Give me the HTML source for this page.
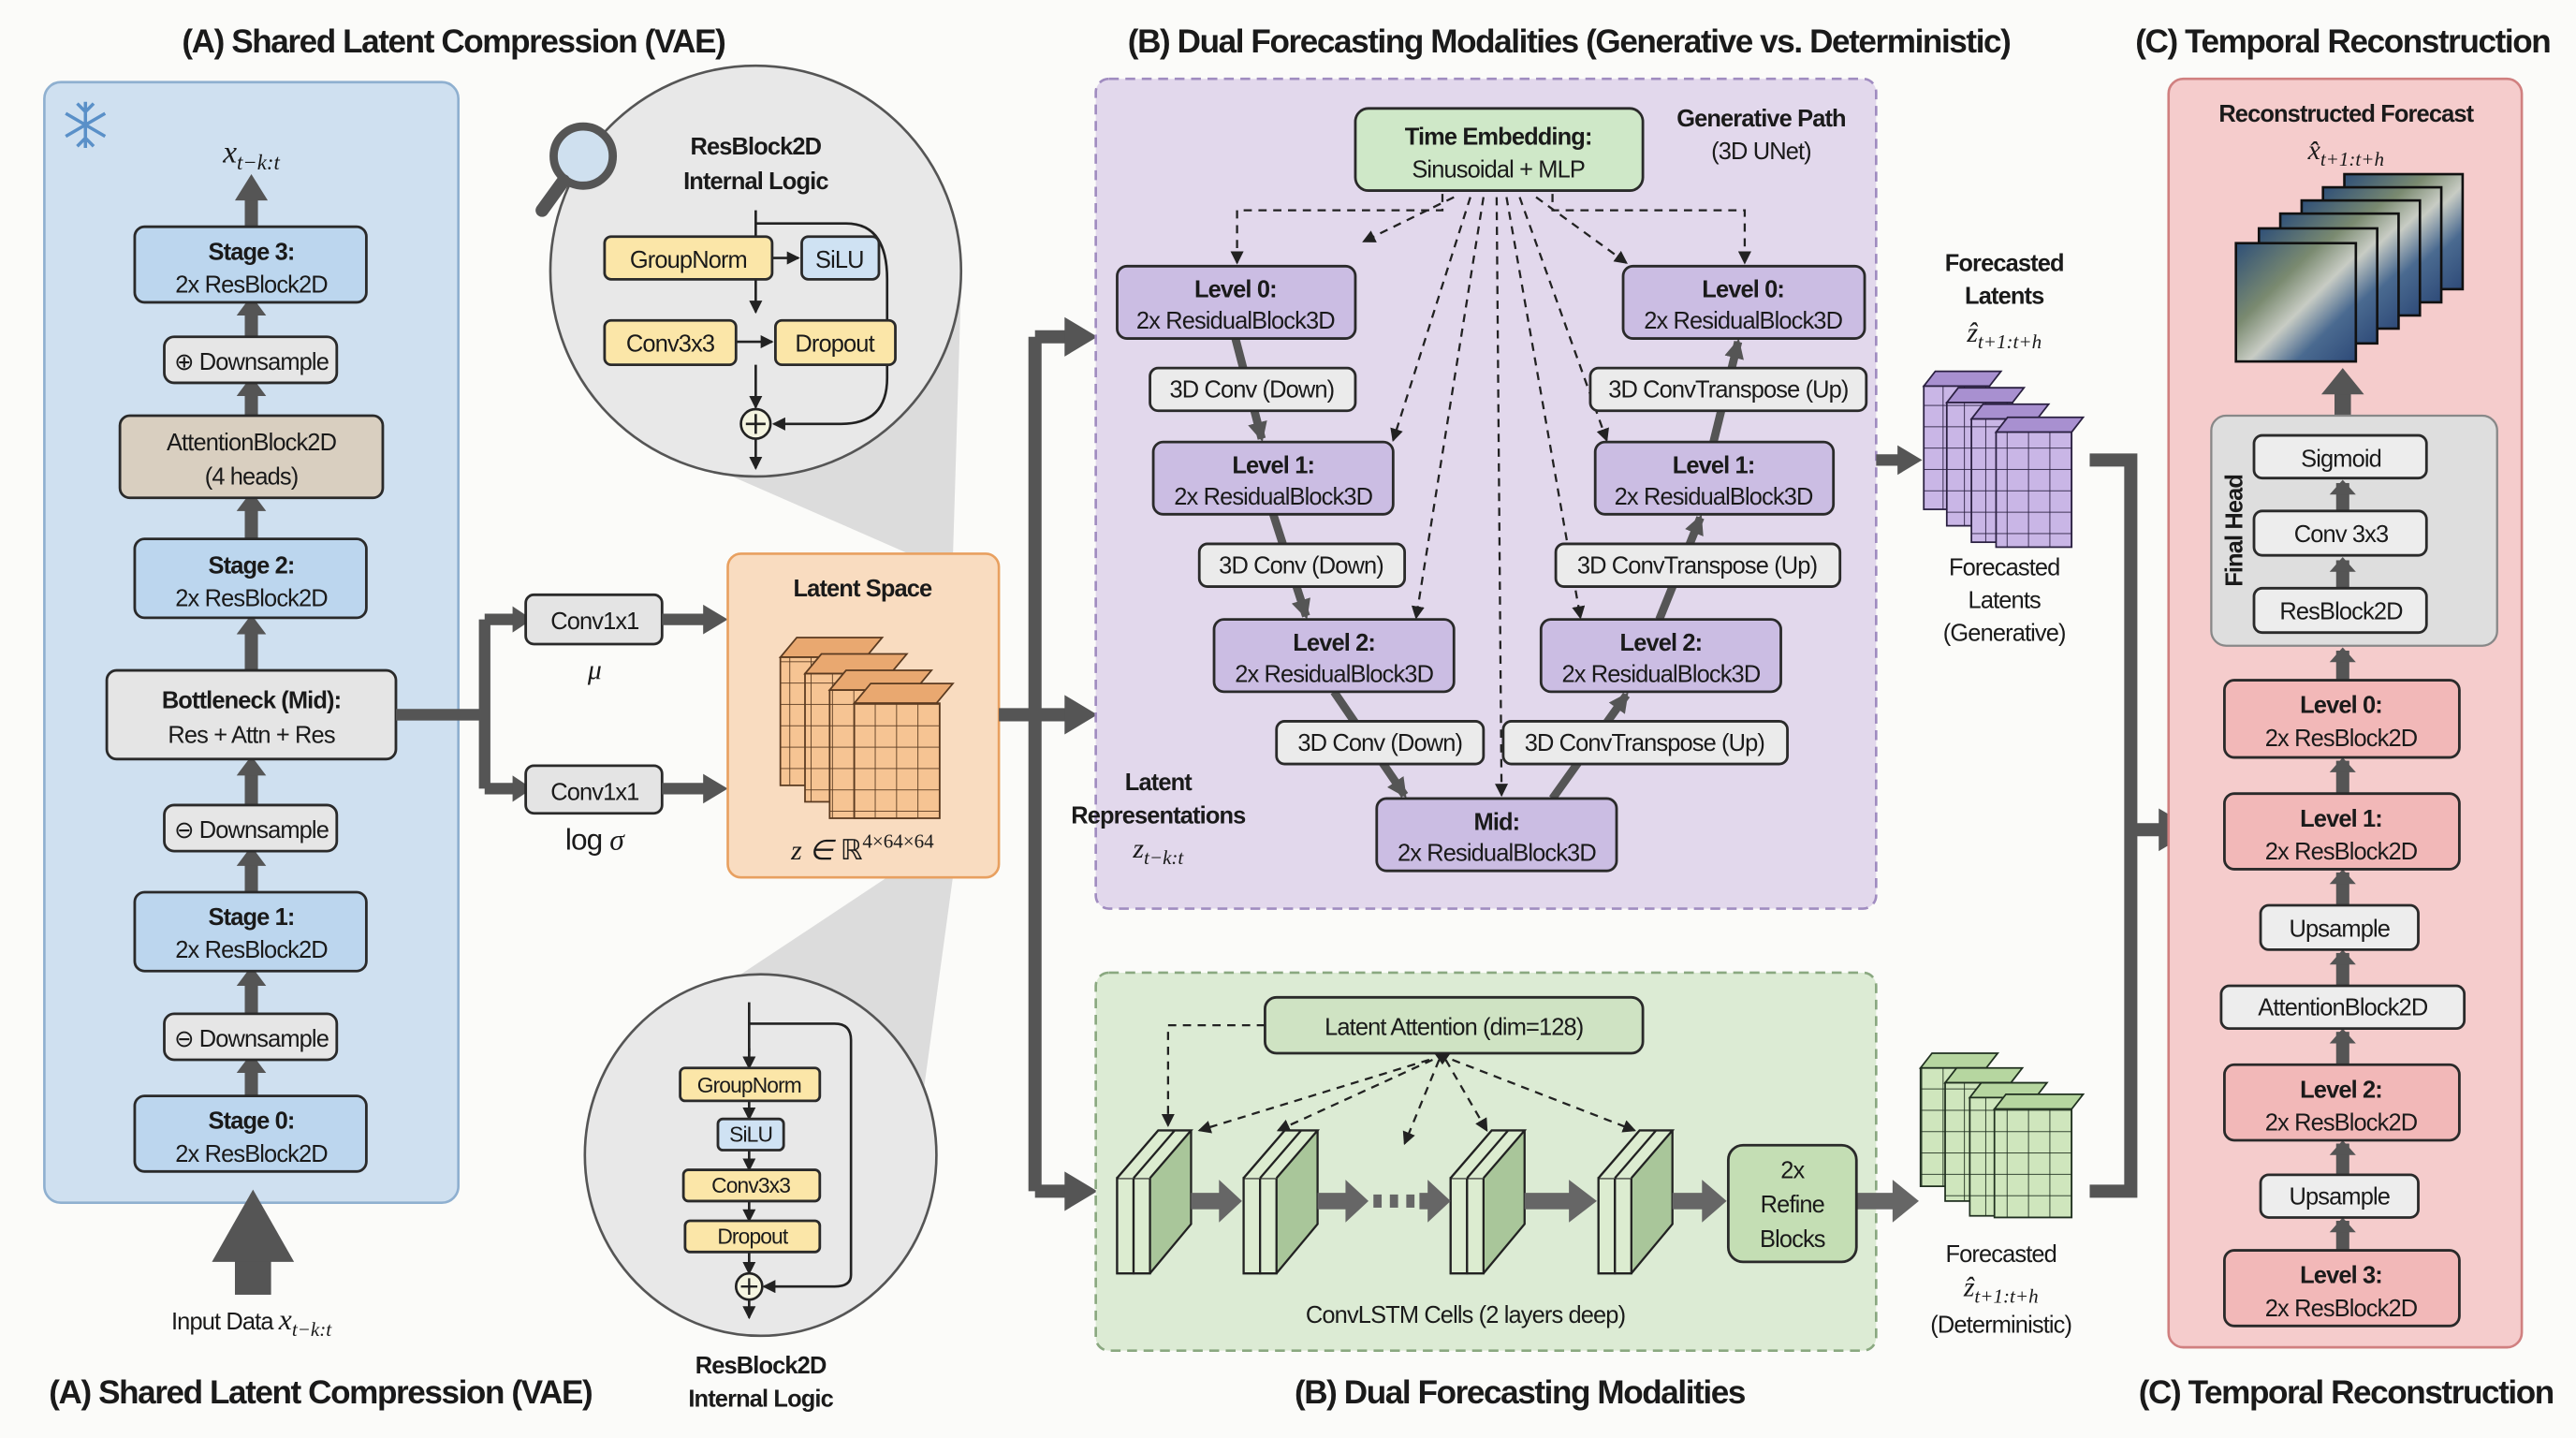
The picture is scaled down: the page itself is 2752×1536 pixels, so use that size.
<!DOCTYPE html>
<html><head><meta charset="utf-8"><style>
html,body{margin:0;padding:0;background:#fbfbf9;}
svg{display:block;}
text{font-family:"Liberation Sans",sans-serif;fill:#1a1a1a;letter-spacing:-0.5px;}
.t{font-weight:bold;font-size:20px;letter-spacing:-0.8px;}
.b{font-size:14.5px;}
.bb{font-size:14.5px;font-weight:bold;}
.m{font-family:"Liberation Serif",serif;font-style:italic;letter-spacing:0;}
.box{stroke:#2a2a2a;stroke-width:1.6;}
</style></head><body>
<svg width="2752" height="1536" viewBox="0 0 1568 875.2" preserveAspectRatio="none" xmlns="http://www.w3.org/2000/svg">
<defs>
<marker id="ah" markerWidth="8" markerHeight="8" refX="7" refY="4" orient="auto" markerUnits="userSpaceOnUse"><path d="M0,0 L8,4 L0,8 Z" fill="#222"/></marker>
<marker id="as" markerWidth="14" markerHeight="14" refX="10" refY="7" orient="auto" markerUnits="userSpaceOnUse"><path d="M0,1 L12,7 L0,13 Z" fill="#555"/></marker>
<pattern id="go" width="13" height="13" patternUnits="userSpaceOnUse"><rect width="13" height="13" fill="#f6c493"/><path d="M13,0V13H0" fill="none" stroke="#5a3a20" stroke-width="1"/></pattern>
<pattern id="gp" width="13" height="13" patternUnits="userSpaceOnUse"><rect width="13" height="13" fill="#c9b6e6"/><path d="M13,0V13H0" fill="none" stroke="#2a2040" stroke-width="1"/></pattern>
<pattern id="gg" width="13" height="13" patternUnits="userSpaceOnUse"><rect width="13" height="13" fill="#cfe6bd"/><path d="M13,0V13H0" fill="none" stroke="#203020" stroke-width="1"/></pattern>
<linearGradient id="sat" x1="0" y1="0" x2="1" y2="1"><stop offset="0" stop-color="#2e4f78"/><stop offset="0.35" stop-color="#7a8a70"/><stop offset="0.55" stop-color="#c8ccc4"/><stop offset="0.75" stop-color="#4a6a90"/><stop offset="1" stop-color="#2e4a78"/></linearGradient>
</defs>

<!-- titles -->
<text class="t" x="276" y="32" text-anchor="middle">(A) Shared Latent Compression (VAE)</text>
<text class="t" x="955" y="32" text-anchor="middle">(B) Dual Forecasting Modalities (Generative vs. Deterministic)</text>
<text class="t" x="1426" y="32" text-anchor="middle">(C) Temporal Reconstruction</text>
<text class="t" x="195" y="854" text-anchor="middle">(A) Shared Latent Compression (VAE)</text>
<text class="t" x="925" y="854" text-anchor="middle">(B) Dual Forecasting Modalities</text>
<text class="t" x="1428" y="854" text-anchor="middle">(C) Temporal Reconstruction</text>

<!-- Panel A -->
<rect x="27" y="50" width="252" height="682" rx="10" fill="#cfe0f0" stroke="#8fb0d0" stroke-width="1.5"/>
<g stroke="#5a90c8" stroke-width="2" fill="none">
<path d="M52,62V90M40,69L64,83M40,83L64,69M47,63L52,68L57,63M47,89L52,84L57,89"/>
</g>
<text class="m" x="153" y="99" text-anchor="middle" font-size="19">x<tspan font-size="13" dy="4">t−k:t</tspan></text>
<g fill="#555">
<rect x="149" y="120" width="8" height="20"/><path d="M143,122L153,106L163,122Z"/>
<rect x="149" y="187" width="8" height="18"/><path d="M144,192L153,180L162,192Z"/>
<rect x="149" y="236" width="8" height="17"/><path d="M144,241L153,229L162,241Z"/>
<rect x="149" y="306" width="8" height="22"/><path d="M144,311L153,299L162,311Z"/>
<rect x="149" y="380" width="8" height="28"/><path d="M144,386L153,374L162,386Z"/>
<rect x="149" y="466" width="8" height="24"/><path d="M144,472L153,460L162,472Z"/>
<rect x="149" y="522" width="8" height="21"/><path d="M144,527L153,515L162,527Z"/>
<rect x="149" y="595" width="8" height="22"/><path d="M144,600L153,588L162,600Z"/>
<rect x="149" y="648" width="8" height="19"/><path d="M144,653L153,641L162,653Z"/>
<rect x="143" y="766" width="22" height="22"/><path d="M129,768L154,724L179,768Z"/>
</g>
<rect class="box" x="82" y="138" width="141" height="46" rx="6" fill="#bcd6ee"/>
<text class="bb" x="153" y="158" text-anchor="middle">Stage 3:</text><text class="b" x="153" y="178" text-anchor="middle">2x ResBlock2D</text>
<rect class="box" x="100" y="205" width="105" height="28" rx="6" fill="#e6e6e6"/>
<text class="b" x="153" y="225" text-anchor="middle">⊕ Downsample</text>
<rect class="box" x="73" y="253" width="160" height="50" rx="6" fill="#d9cfc0"/>
<text class="b" x="153" y="274" text-anchor="middle">AttentionBlock2D</text><text class="b" x="153" y="295" text-anchor="middle">(4 heads)</text>
<rect class="box" x="82" y="328" width="141" height="48" rx="6" fill="#bcd6ee"/>
<text class="bb" x="153" y="349" text-anchor="middle">Stage 2:</text><text class="b" x="153" y="369" text-anchor="middle">2x ResBlock2D</text>
<rect class="box" x="65" y="408" width="176" height="54" rx="6" fill="#e5e5e5"/>
<text class="bb" x="153" y="431" text-anchor="middle">Bottleneck (Mid):</text><text class="b" x="153" y="452" text-anchor="middle">Res + Attn + Res</text>
<rect class="box" x="100" y="490" width="105" height="28" rx="6" fill="#e6e6e6"/>
<text class="b" x="153" y="510" text-anchor="middle">⊖ Downsample</text>
<rect class="box" x="82" y="543" width="141" height="48" rx="6" fill="#bcd6ee"/>
<text class="bb" x="153" y="563" text-anchor="middle">Stage 1:</text><text class="b" x="153" y="583" text-anchor="middle">2x ResBlock2D</text>
<rect class="box" x="100" y="617" width="105" height="28" rx="6" fill="#e6e6e6"/>
<text class="b" x="153" y="637" text-anchor="middle">⊖ Downsample</text>
<rect class="box" x="82" y="667" width="141" height="46" rx="6" fill="#bcd6ee"/>
<text class="bb" x="153" y="687" text-anchor="middle">Stage 0:</text><text class="b" x="153" y="707" text-anchor="middle">2x ResBlock2D</text>
<text class="b" x="153" y="809" text-anchor="middle">Input Data <tspan class="m" font-size="18">x</tspan><tspan class="m" font-size="12" dy="4">t−k:t</tspan></text>

<!-- bottleneck branch -->
<path d="M241,435H295M295,377V480M295,377H318M295,480H318" stroke="#555" stroke-width="7" fill="none"/>
<path d="M312,369L324,377L312,385Z M312,472L324,480L312,488Z" fill="#555"/>
<rect class="box" x="320" y="362" width="83" height="30" rx="5" fill="#e4e4e4"/>
<text class="b" x="362" y="383" text-anchor="middle">Conv1x1</text>
<rect class="box" x="320" y="466" width="83" height="29" rx="5" fill="#e4e4e4"/>
<text class="b" x="362" y="487" text-anchor="middle">Conv1x1</text>
<text class="m" x="362" y="413" text-anchor="middle" font-size="17">μ</text>
<text x="362" y="517" text-anchor="middle" font-size="18" font-family="Liberation Serif">log <tspan class="m">σ</tspan></text>
<path d="M403,377H430M403,480H430" stroke="#555" stroke-width="7"/>
<path d="M428,368L443,377L428,386Z M428,471L443,480L428,489Z" fill="#555"/>

<!-- cones -->
<path d="M400,270 L585,175 L580,340 L560,340Z" fill="#d4d4d4" opacity="0.8"/>
<path d="M540,534 L580,534 L560,680 L380,640Z" fill="#d4d4d4" opacity="0.8"/>

<!-- latent space -->
<rect x="443" y="337" width="165" height="197" rx="8" fill="#f9dcc0" stroke="#e8a060" stroke-width="1.5"/>
<text class="bb" x="525" y="363" text-anchor="middle" font-size="16">Latent Space</text>
<g stroke="#5a3a20" stroke-width="1">
<path d="M475,400 L485,388 L537,388 L527,400Z" fill="#e9a870"/><rect x="475" y="400" width="52" height="78" fill="url(#go)"/>
<path d="M490,410 L500,398 L552,398 L542,410Z" fill="#e9a870"/><rect x="490" y="410" width="52" height="78" fill="url(#go)"/>
<path d="M505,420 L515,408 L567,408 L557,420Z" fill="#e9a870"/><rect x="505" y="420" width="52" height="78" fill="url(#go)"/>
<path d="M520,428 L530,416 L580,416 L570,428Z" fill="#e9a870"/><rect x="520" y="428" width="52" height="70" fill="url(#go)"/>
</g>
<text class="m" x="525" y="523" text-anchor="middle" font-size="17">z ∈ <tspan font-style="normal">ℝ</tspan><tspan font-size="12" dy="-7" font-style="normal">4×64×64</tspan></text>

<!-- top magnifier circle -->
<circle cx="460" cy="165" r="125" fill="#e8e8e8" stroke="#555" stroke-width="1.5"/>
<circle cx="355" cy="95" r="18" fill="#cfe0ef" stroke="#555" stroke-width="5"/>
<path d="M343,110L330,128" stroke="#555" stroke-width="8" stroke-linecap="round"/>
<text class="bb" x="460" y="94" text-anchor="middle" font-size="16">ResBlock2D</text>
<text class="bb" x="460" y="115" text-anchor="middle" font-size="16">Internal Logic</text>
<g stroke="#222" stroke-width="1.5" fill="none">
<path d="M460,128V144M460,170V190" marker-end="url(#ah)"/>
<path d="M470,157H486" marker-end="url(#ah)"/>
<path d="M448,208H470" marker-end="url(#ah)"/>
<path d="M460,222V248" marker-end="url(#ah)"/>
<path d="M460,267V285" marker-end="url(#ah)"/>
<path d="M460,136H515Q540,136 540,170V230Q540,258 512,258H471" marker-end="url(#ah)"/>
</g>
<rect class="box" x="368" y="144" width="102" height="26" rx="4" fill="#fbe6a8"/><text class="b" x="419" y="163" text-anchor="middle" font-size="16">GroupNorm</text>
<rect class="box" x="488" y="144" width="47" height="26" rx="4" fill="#cfe2f3"/><text class="b" x="511" y="163" text-anchor="middle" font-size="16">SiLU</text>
<rect class="box" x="368" y="195" width="80" height="27" rx="4" fill="#fbe6a8"/><text class="b" x="408" y="214" text-anchor="middle" font-size="16">Conv3x3</text>
<rect class="box" x="472" y="195" width="73" height="27" rx="4" fill="#fbe6a8"/><text class="b" x="508" y="214" text-anchor="middle" font-size="16">Dropout</text>
<circle cx="460" cy="258" r="9" fill="#f4f4e0" stroke="#222" stroke-width="1.5"/><path d="M454,258H466M460,252V264" stroke="#222" stroke-width="1.5"/>

<!-- bottom ellipse -->
<ellipse cx="463" cy="703" rx="107" ry="110" fill="#e8e8e8" stroke="#555" stroke-width="1.5"/>
<g stroke="#222" stroke-width="1.5" fill="none">
<path d="M456,638V650" marker-end="url(#ah)"/>
<path d="M456,670V681" marker-end="url(#ah)"/>
<path d="M456,700V712" marker-end="url(#ah)"/>
<path d="M456,731V743" marker-end="url(#ah)"/>
<path d="M456,762V775" marker-end="url(#ah)"/>
<path d="M456,791V802" marker-end="url(#ah)"/>
<path d="M456,610V640"/>
<path d="M456,623H508Q518,623 518,633V776Q518,783 508,783H465" marker-end="url(#ah)"/>
</g>
<rect class="box" x="414" y="650" width="85" height="20" rx="3" fill="#fbe6a8"/><text x="456" y="665" text-anchor="middle" font-size="13">GroupNorm</text>
<rect class="box" x="437" y="681" width="40" height="19" rx="3" fill="#cfe2f3"/><text x="457" y="695" text-anchor="middle" font-size="13">SiLU</text>
<rect class="box" x="416" y="712" width="83" height="19" rx="3" fill="#fbe6a8"/><text x="457" y="726" text-anchor="middle" font-size="13">Conv3x3</text>
<rect class="box" x="417" y="743" width="82" height="19" rx="3" fill="#fbe6a8"/><text x="458" y="757" text-anchor="middle" font-size="13">Dropout</text>
<circle cx="456" cy="783" r="8" fill="#f4f4e0" stroke="#222" stroke-width="1.5"/><path d="M451,783H461M456,778V788" stroke="#222" stroke-width="1.3"/>
<text class="bb" x="463" y="836" text-anchor="middle" font-size="16">ResBlock2D</text>
<text class="bb" x="463" y="856" text-anchor="middle" font-size="16">Internal Logic</text>

<!-- distributor -->
<path d="M608,435H630M630,205V725M630,205H652M630,435H652M630,725H652" stroke="#555" stroke-width="8" fill="none"/>
<path d="M648,193L668,205L648,217Z M648,423L668,435L648,447Z M648,713L668,725L648,737Z" fill="#555"/>

<!-- Purple panel -->
<rect x="667" y="48" width="475" height="505" rx="8" fill="#e2d8ec" stroke="#a08cc0" stroke-width="1.5" stroke-dasharray="6,4"/>
<rect class="box" x="825" y="66" width="175" height="50" rx="8" fill="#cfe8c8" stroke="#6a9a6a"/>
<text class="bb" x="912" y="88" text-anchor="middle" font-size="16">Time Embedding:</text>
<text class="b" x="912" y="108" text-anchor="middle" font-size="16">Sinusoidal + MLP</text>
<text class="bb" x="1072" y="77" text-anchor="middle">Generative Path</text>
<text class="b" x="1072" y="97" text-anchor="middle">(3D UNet)</text>
<g stroke="#222" stroke-width="1.3" fill="none" stroke-dasharray="5,4" marker-end="url(#ah)">
<path d="M878,118V128H753V160"/>
<path d="M885,120L830,147"/>
<path d="M895,120L848,268"/>
<path d="M903,120L862,376"/>
<path d="M911,120L914,484"/>
<path d="M917,120L962,376"/>
<path d="M925,120L978,268"/>
<path d="M935,120L990,160"/>
<path d="M945,118V128H1062V160"/>
</g>
<g stroke="#555" stroke-width="5" fill="none" marker-end="url(#as)">
<path d="M752,206L768,267"/><path d="M775,313L795,375"/><path d="M812,421L855,484"/>
<path d="M945,486L990,423"/><path d="M1010,377L1035,315"/><path d="M1043,269L1058,208"/>
</g>
<g class="box">
<rect x="680" y="162" width="145" height="44" rx="6" fill="#cbbde3"/>
<rect x="702" y="269" width="146" height="44" rx="6" fill="#cbbde3"/>
<rect x="739" y="377" width="146" height="44" rx="6" fill="#cbbde3"/>
<rect x="838" y="486" width="146" height="44" rx="6" fill="#cbbde3"/>
<rect x="988" y="162" width="147" height="44" rx="6" fill="#cbbde3"/>
<rect x="971" y="269" width="145" height="44" rx="6" fill="#cbbde3"/>
<rect x="938" y="377" width="146" height="44" rx="6" fill="#cbbde3"/>
<rect x="700" y="224" width="125" height="26" rx="5" fill="#ebebeb"/>
<rect x="730" y="331" width="125" height="26" rx="5" fill="#ebebeb"/>
<rect x="777" y="439" width="126" height="26" rx="5" fill="#ebebeb"/>
<rect x="968" y="224" width="168" height="26" rx="5" fill="#ebebeb"/>
<rect x="947" y="331" width="173" height="26" rx="5" fill="#ebebeb"/>
<rect x="915" y="439" width="173" height="26" rx="5" fill="#ebebeb"/>
</g>
<text class="bb" x="752" y="181" text-anchor="middle" font-size="16">Level 0:</text><text class="b" x="752" y="200" text-anchor="middle">2x ResidualBlock3D</text>
<text class="bb" x="775" y="288" text-anchor="middle" font-size="16">Level 1:</text><text class="b" x="775" y="307" text-anchor="middle">2x ResidualBlock3D</text>
<text class="bb" x="812" y="396" text-anchor="middle" font-size="16">Level 2:</text><text class="b" x="812" y="415" text-anchor="middle">2x ResidualBlock3D</text>
<text class="bb" x="911" y="505" text-anchor="middle" font-size="16">Mid:</text><text class="b" x="911" y="524" text-anchor="middle">2x ResidualBlock3D</text>
<text class="bb" x="1061" y="181" text-anchor="middle" font-size="16">Level 0:</text><text class="b" x="1061" y="200" text-anchor="middle">2x ResidualBlock3D</text>
<text class="bb" x="1043" y="288" text-anchor="middle" font-size="16">Level 1:</text><text class="b" x="1043" y="307" text-anchor="middle">2x ResidualBlock3D</text>
<text class="bb" x="1011" y="396" text-anchor="middle" font-size="16">Level 2:</text><text class="b" x="1011" y="415" text-anchor="middle">2x ResidualBlock3D</text>
<text class="b" x="762" y="242" text-anchor="middle">3D Conv (Down)</text>
<text class="b" x="792" y="349" text-anchor="middle">3D Conv (Down)</text>
<text class="b" x="840" y="457" text-anchor="middle">3D Conv (Down)</text>
<text class="b" x="1052" y="242" text-anchor="middle">3D ConvTranspose (Up)</text>
<text class="b" x="1033" y="349" text-anchor="middle">3D ConvTranspose (Up)</text>
<text class="b" x="1001" y="457" text-anchor="middle">3D ConvTranspose (Up)</text>
<text class="bb" x="705" y="481" text-anchor="middle" font-size="16">Latent</text>
<text class="bb" x="705" y="501" text-anchor="middle" font-size="16">Representations</text>
<text class="m" x="705" y="522" text-anchor="middle" font-size="17">z<tspan font-size="12" dy="4">t−k:t</tspan></text>

<!-- forecasted latents generative -->
<text class="bb" x="1220" y="165" text-anchor="middle" font-size="16">Forecasted</text>
<text class="bb" x="1220" y="185" text-anchor="middle" font-size="16">Latents</text>
<text class="m" x="1220" y="208" text-anchor="middle" font-size="17">ẑ<tspan font-size="12" dy="4">t+1:t+h</tspan></text>
<g stroke="#2a2040" stroke-width="1">
<path d="M1171,235L1178,226L1218,226L1211,235Z" fill="#a890d0"/><rect x="1171" y="235" width="40" height="75" fill="url(#gp)"/>
<path d="M1185,245L1192,236L1232,236L1225,245Z" fill="#a890d0"/><rect x="1185" y="245" width="40" height="75" fill="url(#gp)"/>
<path d="M1200,255L1207,246L1247,246L1240,255Z" fill="#a890d0"/><rect x="1200" y="255" width="40" height="75" fill="url(#gp)"/>
<path d="M1215,263L1222,254L1268,254L1261,263Z" fill="#a890d0"/><rect x="1215" y="263" width="46" height="70" fill="url(#gp)"/>
</g>
<text class="b" x="1220" y="350" text-anchor="middle" font-size="16">Forecasted</text>
<text class="b" x="1220" y="370" text-anchor="middle" font-size="16">Latents</text>
<text class="b" x="1220" y="390" text-anchor="middle" font-size="16">(Generative)</text>
<path d="M1142,280H1158" stroke="#555" stroke-width="7"/><path d="M1155,271L1170,280L1155,289Z" fill="#555"/>

<!-- Green panel -->
<rect x="667" y="592" width="475" height="230" rx="8" fill="#dcebd4" stroke="#8aa880" stroke-width="1.5" stroke-dasharray="6,4"/>
<rect class="box" x="770" y="607" width="230" height="34" rx="7" fill="#cfe3c3"/>
<text class="b" x="885" y="630" text-anchor="middle" font-size="16">Latent Attention (dim=128)</text>
<g stroke="#222" stroke-width="1.3" fill="none" stroke-dasharray="5,4" marker-end="url(#ah)">
<path d="M770,624H711V685"/>
<path d="M870,645L730,688"/>
<path d="M872,645L778,688"/>
<path d="M876,645L855,696"/>
<path d="M880,645L905,688"/>
<path d="M884,645L995,688"/>
</g>
<path d="M873,641L878,648L883,641" fill="#222"/>
<g stroke="#222" stroke-width="1.3">
<g><path d="M680,775V717L705,688H725V745L700,775Z" fill="#a9c69a"/><rect x="680" y="717" width="10" height="58" fill="#dcecd0"/><rect x="690" y="717" width="10" height="58" fill="#dcecd0"/><path d="M680,717L705,688H715L690,717M690,717L715,688H725L700,717" fill="#dcecd0"/></g>
<g transform="translate(77,0)"><path d="M680,775V717L705,688H725V745L700,775Z" fill="#a9c69a"/><rect x="680" y="717" width="10" height="58" fill="#dcecd0"/><rect x="690" y="717" width="10" height="58" fill="#dcecd0"/><path d="M680,717L705,688H715L690,717M690,717L715,688H725L700,717" fill="#dcecd0"/></g>
<g transform="translate(203,0)"><path d="M680,775V717L705,688H725V745L700,775Z" fill="#a9c69a"/><rect x="680" y="717" width="10" height="58" fill="#dcecd0"/><rect x="690" y="717" width="10" height="58" fill="#dcecd0"/><path d="M680,717L705,688H715L690,717M690,717L715,688H725L700,717" fill="#dcecd0"/></g>
<g transform="translate(293,0)"><path d="M680,775V717L705,688H725V745L700,775Z" fill="#a9c69a"/><rect x="680" y="717" width="10" height="58" fill="#dcecd0"/><rect x="690" y="717" width="10" height="58" fill="#dcecd0"/><path d="M680,717L705,688H715L690,717M690,717L715,688H725L700,717" fill="#dcecd0"/></g>
</g>
<g fill="#666">
<rect x="725" y="726" width="20" height="10"/><path d="M742,718L756,731L742,744Z"/>
<rect x="802" y="726" width="20" height="10"/><path d="M819,718L833,731L819,744Z"/>
<rect x="836" y="727" width="5" height="8"/><rect x="846" y="727" width="5" height="8"/><rect x="856" y="727" width="5" height="8"/>
<rect x="864" y="726" width="8" height="10"/><path d="M869,718L883,731L869,744Z"/>
<rect x="928" y="726" width="30" height="10"/><path d="M955,718L972,731L955,744Z"/>
<rect x="1018" y="726" width="20" height="10"/><path d="M1036,718L1051,731L1036,744Z"/>
<rect x="1130" y="726" width="26" height="10"/><path d="M1152,718L1168,731L1152,744Z"/>
</g>
<rect class="box" x="1052" y="697" width="78" height="71" rx="9" fill="#c4deb4"/>
<text class="b" x="1091" y="717" text-anchor="middle" font-size="17">2x</text>
<text class="b" x="1091" y="738" text-anchor="middle" font-size="17">Refine</text>
<text class="b" x="1091" y="759" text-anchor="middle" font-size="17">Blocks</text>
<text class="b" x="892" y="805" text-anchor="middle" font-size="16">ConvLSTM Cells (2 layers deep)</text>

<!-- green cube -->
<g stroke="#203020" stroke-width="1">
<path d="M1169,650L1176,641L1216,641L1209,650Z" fill="#b6d6a0"/><rect x="1169" y="650" width="40" height="72" fill="url(#gg)"/>
<path d="M1184,659L1191,650L1231,650L1224,659Z" fill="#b6d6a0"/><rect x="1184" y="659" width="40" height="72" fill="url(#gg)"/>
<path d="M1199,668L1206,659L1246,659L1239,668Z" fill="#b6d6a0"/><rect x="1199" y="668" width="40" height="72" fill="url(#gg)"/>
<path d="M1214,675L1221,666L1268,666L1261,675Z" fill="#b6d6a0"/><rect x="1214" y="675" width="47" height="66" fill="url(#gg)"/>
</g>
<text class="b" x="1218" y="768" text-anchor="middle" font-size="16">Forecasted</text>
<text class="m" x="1218" y="789" text-anchor="middle" font-size="17">ẑ<tspan font-size="12" dy="4">t+1:t+h</tspan></text>
<text class="b" x="1218" y="811" text-anchor="middle" font-size="16">(Deterministic)</text>

<!-- merge bracket -->
<path d="M1272,280H1297V725H1272M1297,505H1320" stroke="#555" stroke-width="8" fill="none"/>
<path d="M1314,492L1336,505L1314,518Z" fill="#555"/>

<!-- Red panel -->
<rect x="1320" y="48" width="215" height="772" rx="9" fill="#f5cccc" stroke="#d08080" stroke-width="1.5"/>
<text class="bb" x="1428" y="74" text-anchor="middle" font-size="16">Reconstructed Forecast</text>
<text class="m" x="1428" y="97" text-anchor="middle" font-size="17">x̂<tspan font-size="12" dy="4">t+1:t+h</tspan></text>
<g stroke="#111" stroke-width="1.5">
<rect x="1427" y="106" width="72" height="70" fill="url(#sat)"/>
<rect x="1414" y="114" width="72" height="70" fill="url(#sat)"/>
<rect x="1401" y="122" width="72" height="70" fill="url(#sat)"/>
<rect x="1388" y="130" width="72" height="70" fill="url(#sat)"/>
<rect x="1375" y="139" width="72" height="70" fill="url(#sat)"/>
<rect x="1361" y="148" width="73" height="72" fill="url(#sat)"/>
</g>
<rect x="1421" y="236" width="10" height="18" fill="#555"/><path d="M1413,240L1426,224L1439,240Z" fill="#555"/>
<rect x="1346" y="253" width="174" height="140" rx="9" fill="#dedede" stroke="#888" stroke-width="1.3"/>
<text class="bb" x="0" y="0" transform="translate(1365,323) rotate(-90)" text-anchor="middle" font-size="16">Final Head</text>
<g fill="#555">
<rect x="1422" y="294" width="8" height="17"/><path d="M1418,301L1426,292L1434,301Z"/>
<rect x="1422" y="341" width="8" height="17"/><path d="M1418,348L1426,339L1434,348Z"/>
<rect x="1422" y="396" width="8" height="18"/><path d="M1418,403L1426,394L1434,403Z"/>
<rect x="1422" y="463" width="8" height="20"/><path d="M1418,470L1426,461L1434,470Z"/>
<rect x="1422" y="531" width="8" height="20"/><path d="M1418,538L1426,529L1434,538Z"/>
<rect x="1422" y="580" width="8" height="20"/><path d="M1418,587L1426,578L1434,587Z"/>
<rect x="1422" y="628" width="8" height="20"/><path d="M1418,635L1426,626L1434,635Z"/>
<rect x="1422" y="696" width="8" height="19"/><path d="M1418,703L1426,694L1434,703Z"/>
<rect x="1422" y="743" width="8" height="18"/><path d="M1418,750L1426,741L1434,750Z"/>
</g>
<g class="box">
<rect x="1372" y="265" width="105" height="26" rx="5" fill="#ededed"/>
<rect x="1372" y="311" width="105" height="27" rx="5" fill="#ededed"/>
<rect x="1372" y="358" width="105" height="27" rx="5" fill="#ededed"/>
<rect x="1354" y="414" width="143" height="47" rx="6" fill="#f2b8b8"/>
<rect x="1354" y="483" width="143" height="46" rx="6" fill="#f2b8b8"/>
<rect x="1376" y="551" width="96" height="27" rx="5" fill="#ededed"/>
<rect x="1352" y="600" width="148" height="26" rx="5" fill="#ededed"/>
<rect x="1354" y="648" width="143" height="46" rx="6" fill="#f2b8b8"/>
<rect x="1376" y="715" width="96" height="26" rx="5" fill="#ededed"/>
<rect x="1354" y="761" width="143" height="46" rx="6" fill="#f2b8b8"/>
</g>
<text class="b" x="1425" y="284" text-anchor="middle" font-size="16">Sigmoid</text>
<text class="b" x="1425" y="330" text-anchor="middle" font-size="16">Conv 3x3</text>
<text class="b" x="1425" y="377" text-anchor="middle" font-size="16">ResBlock2D</text>
<text class="bb" x="1425" y="434" text-anchor="middle" font-size="16">Level 0:</text><text class="b" x="1425" y="454" text-anchor="middle" font-size="16">2x ResBlock2D</text>
<text class="bb" x="1425" y="503" text-anchor="middle" font-size="16">Level 1:</text><text class="b" x="1425" y="523" text-anchor="middle" font-size="16">2x ResBlock2D</text>
<text class="b" x="1424" y="570" text-anchor="middle" font-size="16">Upsample</text>
<text class="b" x="1426" y="618" text-anchor="middle" font-size="16">AttentionBlock2D</text>
<text class="bb" x="1425" y="668" text-anchor="middle" font-size="16">Level 2:</text><text class="b" x="1425" y="688" text-anchor="middle" font-size="16">2x ResBlock2D</text>
<text class="b" x="1424" y="733" text-anchor="middle" font-size="16">Upsample</text>
<text class="bb" x="1425" y="781" text-anchor="middle" font-size="16">Level 3:</text><text class="b" x="1425" y="801" text-anchor="middle" font-size="16">2x ResBlock2D</text>
</svg>
</body></html>
